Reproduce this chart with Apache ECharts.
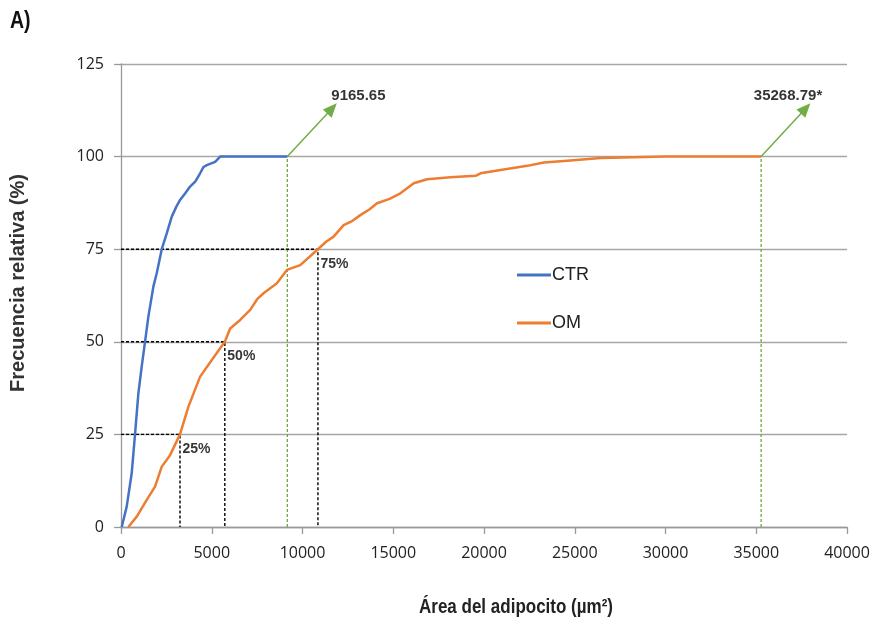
<!DOCTYPE html>
<html>
<head>
<meta charset="utf-8">
<script src="https://cdn.jsdelivr.net/npm/echarts@6/dist/echarts.min.js"></script>
<style>
  html, body { margin: 0; padding: 0; background: #fff; }
  #chart { width: 876px; height: 629px; }
</style>
</head>
<body>
<div id="chart"></div>
<script>
// datos
var ctrX = [40, 314, 590, 772, 956, 1140, 1324, 1508, 1784, 1968, 2245, 2520, 2797, 3050, 3255, 3550, 3807, 4100, 4359, 4550, 4727, 5186, 5462, 9165.65];
var ctrY = [0, 5.5, 14.5, 25, 36, 43.3, 50, 56.8, 64.9, 68.5, 75, 79.3, 83.8, 86.5, 88.3, 90.2, 91.9, 93.3, 95.5, 97.2, 97.7, 98.6, 100, 100];

var omX = [405, 866, 1418, 1876, 2245, 2703, 3250, 3715, 4359, 5002, 5720, 6014, 6566, 7117, 7500, 7853, 8589, 9141, 9876, 10850, 11300, 11714, 12266, 12700, 13186, 13700, 14106, 14800, 15393, 16128, 16864, 18152, 19531, 19807, 20910, 22382, 23299, 24590, 26428, 30000, 35268.79];
var omY = [0, 2.8, 7.3, 10.9, 16.3, 19.4, 25, 32.5, 40.6, 45.1, 50, 53.6, 55.9, 58.6, 61.5, 63.1, 65.8, 69.4, 70.7, 75, 77, 78.4, 81.5, 82.5, 84.2, 85.8, 87.4, 88.6, 90.1, 92.8, 93.9, 94.4, 94.8, 95.5, 96.4, 97.5, 98.4, 98.9, 99.6, 100, 100];

// percentiles de OM
var quartileX = [3250, 5720, 10850];
var quartileY = [25, 50, 75];
var quartileLabels = ['25%', '50%', '75%'];

// area maxima de cada grupo
var maxX = [9165.65, 35268.79];
var maxLabels = ['9165.65', '35268.79*'];
var arrowEndX = [11625, 37720];
var arrowEndY = [113, 113];
var arrowLabelX = [13080, 36750];
var arrowLabelY = [116.5, 116.5];

var seriesNames = ['CTR', 'OM'];
var colors = ['#4472C4', '#ED7D31'];

var toPairs = function (xs, ys) {
    var out = [];
    xs.forEach(function (x, i) { out.push([x, ys[i]]); });
    return out;
};

var myChart = echarts.init(document.getElementById('chart'));

var series = [];

// lineas de percentiles (negras discontinuas)
quartileX.forEach(function (qx, i) {
    series.push({
        type: 'line',
        silent: true,
        symbol: 'none',
        data: [[0, quartileY[i]], [qx, quartileY[i]], [qx, 0]],
        lineStyle: { color: '#000', width: 1.4, type: [3, 2] },
        z: 3
    });
});

// lineas verdes hasta el maximo + flechas
maxX.forEach(function (mx, i) {
    series.push({
        type: 'line',
        silent: true,
        symbol: 'none',
        data: [[mx, 0], [mx, 100]],
        lineStyle: { color: '#6aaa3a', width: 1.3, type: [3, 2] },
        z: 2,
        markLine: {
            silent: true,
            symbol: ['none', 'triangle'],
            symbolSize: [12, 14],
            label: { show: false },
            lineStyle: { color: '#70AD47', width: 1.5, type: 'solid' },
            data: [[{ coord: [mx, 100] }, { coord: [arrowEndX[i], arrowEndY[i]] }]]
        }
    });
});

series.push({
    name: 'CTR',
    type: 'line',
    symbol: 'none',
    data: toPairs(ctrX, ctrY),
    lineStyle: { color: colors[0], width: 2.5 },
    itemStyle: { color: colors[0] },
    z: 5
});
series.push({
    name: 'OM',
    type: 'line',
    symbol: 'none',
    data: toPairs(omX, omY),
    lineStyle: { color: colors[1], width: 2.5 },
    itemStyle: { color: colors[1] },
    z: 4
});

// etiquetas de percentiles
series.push({
    type: 'scatter',
    silent: true,
    symbolSize: 1,
    itemStyle: { color: 'rgba(0,0,0,0)' },
    data: quartileX.map(function (qx, i) { return [qx, quartileY[i], quartileLabels[i]]; }),
    label: {
        show: true,
        position: [3, 8],
        formatter: function (p) { return p.value[2]; },
        fontFamily: 'Liberation Sans, sans-serif',
        fontWeight: 'bold',
        fontSize: 14,
        color: '#000'
    },
    z: 6
});

// etiquetas de las flechas
series.push({
    type: 'scatter',
    silent: true,
    symbolSize: 1,
    itemStyle: { color: 'rgba(0,0,0,0)' },
    data: arrowLabelX.map(function (x, i) { return [x, arrowLabelY[i], maxLabels[i]]; }),
    label: {
        show: true,
        position: 'inside',
        formatter: function (p) { return p.value[2]; },
        fontFamily: 'Liberation Sans, sans-serif',
        fontWeight: 'bold',
        fontSize: 15,
        color: '#000'
    },
    z: 6
});

var option = {
    animation: false,
    backgroundColor: '#fff',
    grid: { left: 121, right: 29, top: 64, bottom: 102 },
    legend: {
        data: seriesNames,
        orient: 'vertical',
        left: 512,
        top: 261,
        itemWidth: 34,
        itemHeight: 3,
        itemGap: 30,
        icon: 'rect',
        textStyle: {
            fontFamily: 'Liberation Sans, sans-serif',
            fontSize: 18,
            color: '#222',
            padding: [0, 0, 0, -4]
        }
    },
    xAxis: {
        type: 'value',
        min: 0,
        max: 40000,
        interval: 5000,
        axisLine: { show: true, lineStyle: { color: '#999', width: 1.3 } },
        axisTick: { show: true, length: 7, lineStyle: { color: '#999', width: 1.3 } },
        axisLabel: {
            margin: 18,
            formatter: function (v) { return String(v); },
            fontFamily: 'Open Sans, sans-serif',
            fontSize: 16,
            color: '#222'
        },
        splitLine: { show: false }
    },
    yAxis: {
        type: 'value',
        min: 0,
        max: 125,
        interval: 25,
        axisLine: { show: true, lineStyle: { color: '#999', width: 1.3 } },
        axisTick: { show: true, length: 7, lineStyle: { color: '#999', width: 1.3 } },
        axisLabel: {
            margin: 17,
            fontFamily: 'Open Sans, sans-serif',
            fontSize: 16,
            color: '#222'
        },
        splitLine: { show: true, lineStyle: { color: '#a6a6a6', width: 1.3 } }
    },
    graphic: [
        {
            type: 'text',
            x: 10,
            y: 10,
            scaleX: 0.85,
            style: {
                text: 'A)',
                font: 'bold 23px "Liberation Sans", sans-serif',
                fill: '#111'
            }
        },
        {
            type: 'text',
            x: 516,
            y: 607,
            scaleX: 0.85,
            style: {
                text: 'Área del adipocito (µm²)',
                font: 'bold 20px "Liberation Sans", sans-serif',
                fill: '#222',
                align: 'center',
                verticalAlign: 'middle'
            }
        },
        {
            type: 'text',
            x: 18,
            y: 283,
            rotation: Math.PI / 2,
            style: {
                text: 'Frecuencia relativa (%)',
                font: 'bold 20px "Liberation Sans", sans-serif',
                fill: '#333',
                align: 'center',
                verticalAlign: 'middle'
            }
        }
    ],
    series: series
};

myChart.setOption(option);
</script>
</body>
</html>
